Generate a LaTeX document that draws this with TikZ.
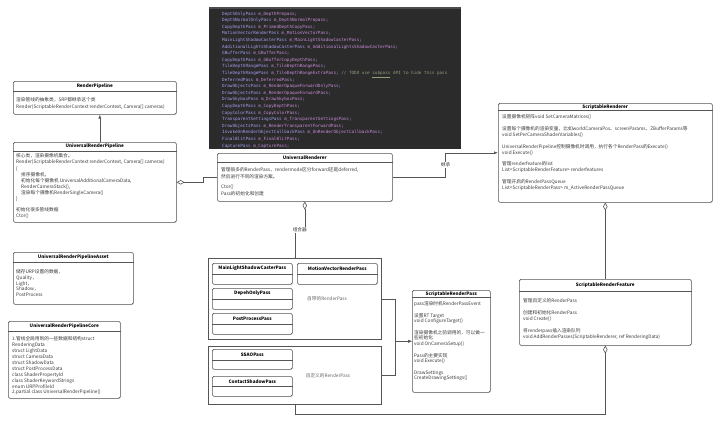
\documentclass[tikz,border=0pt]{standalone}
\usepackage{fontspec}
\setmainfont{Noto Sans CJK SC}
\newfontfamily\codefont{DejaVu Sans Mono}
\usetikzlibrary{arrows.meta,shadows,calc}

\definecolor{codebg}{HTML}{2B2B2B}
\definecolor{codebar}{HTML}{4A4C4E}
\definecolor{ctype}{HTML}{A59DEF}
\definecolor{cfield}{HTML}{C88CDA}
\definecolor{ccomment}{HTML}{8E9F7A}
\definecolor{boxline}{HTML}{555555}
\definecolor{bodytext}{HTML}{3A3A3A}

\newcommand\codeline[2]{\textcolor{ctype}{#1} \textcolor{cfield}{#2}\textcolor{ctype}{;}}

\tikzset{
  umlbox/.style={draw=boxline, line width=0.6pt, rounded corners=1.5pt, fill=white,
    drop shadow={shadow xshift=0.8pt, shadow yshift=-0.8pt, opacity=0.2},
    anchor=north west, inner sep=0pt},
  groupbox/.style={draw=boxline, line width=0.6pt, fill=white,
    drop shadow={shadow xshift=0.8pt, shadow yshift=-0.8pt, opacity=0.2},
    anchor=north west, inner sep=0pt},
  boxtitle/.style={font=\fontsize{4.6}{5.8}\selectfont\bfseries, inner sep=0pt},
  boxbody/.style={font=\fontsize{4.7}{5.9}\selectfont, text=bodytext, align=left,
    anchor=north west, inner sep=0pt},
  grouplabel/.style={font=\fontsize{4.7}{5.8}\selectfont, text=black!60, inner sep=0pt},
  link/.style={draw=boxline, line width=0.6pt},
  inherit/.style={link, -{Latex[length=4pt,width=3pt]}},
  aggr/.style={link, {Diamond[open,length=8pt,width=4.5pt]}-},
  linklabel/.style={font=\fontsize{4.7}{5.8}\selectfont, text=bodytext, fill=white, inner sep=0.8pt},
  codepanel/.style={fill=codebg, anchor=north west, inner sep=0pt},
  codetext/.style={font=\fontsize{4.3}{6.6}\selectfont\codefont, align=left,
    anchor=north west, inner sep=0pt},
}

\begin{document}
\begin{tikzpicture}[x=1pt,y=-1pt]
\useasboundingbox (0,0) rectangle (720,423);

% code panel
\node[codepanel, minimum width=252pt, minimum height=141pt] (codepanel) at (209,8) {};
\draw[codebar, line width=1.2pt] (codepanel.north west) -- (codepanel.north east);
\node[codetext] (codelines) at (222,11.6) {%
\codeline{DepthOnlyPass}{m\_DepthPrepass}\\
\codeline{DepthNormalOnlyPass}{m\_DepthNormalPrepass}\\
\codeline{CopyDepthPass}{m\_PrimedDepthCopyPass}\\
\codeline{MotionVectorRenderPass}{m\_MotionVectorPass}\\
\codeline{MainLightShadowCasterPass}{m\_MainLightShadowCasterPass}\\
\codeline{AdditionalLightsShadowCasterPass}{m\_AdditionalLightsShadowCasterPass}\\
\codeline{GBufferPass}{m\_GBufferPass}\\
\codeline{CopyDepthPass}{m\_GBufferCopyDepthPass}\\
\codeline{TileDepthRangePass}{m\_TileDepthRangePass}\\
\codeline{TileDepthRangePass}{m\_TileDepthRangeExtraPass} \textcolor{ccomment}{// TODO use \underline{subpass} API to hide this pass}\\
\codeline{DeferredPass}{m\_DeferredPass}\\
\codeline{DrawObjectsPass}{m\_RenderOpaqueForwardOnlyPass}\\
\codeline{DrawObjectsPass}{m\_RenderOpaqueForwardPass}\\
\codeline{DrawSkyboxPass}{m\_DrawSkyboxPass}\\
\codeline{CopyDepthPass}{m\_CopyDepthPass}\\
\codeline{CopyColorPass}{m\_CopyColorPass}\\
\codeline{TransparentSettingsPass}{m\_TransparentSettingsPass}\\
\codeline{DrawObjectsPass}{m\_RenderTransparentForwardPass}\\
\codeline{InvokeOnRenderObjectCallbackPass}{m\_OnRenderObjectCallbackPass}\\
\codeline{FinalBlitPass}{m\_FinalBlitPass}\\
\codeline{CapturePass}{m\_CapturePass}};

% RenderPipeline
\node[umlbox, minimum width=163pt, minimum height=33pt] (rp) at (13,81) {};
\draw[link] ([yshift=-10pt]rp.north west) -- ([yshift=-10pt]rp.north east);
\node[boxtitle] (rptitle) at ([yshift=-5pt]rp.north) {RenderPipeline};
\node[boxbody, font=\fontsize{4.7}{7.2}\selectfont] (rpbody) at (16,96.9) {%
渲染管线的抽象类，SRP都继承这个类\\
Render(ScriptableRenderContext renderContext, Camera[] cameras)};

% UniversalRenderPipeline
\node[umlbox, minimum width=163pt, minimum height=80pt] (urp) at (13,142) {};
\draw[link] ([yshift=-9pt]urp.north west) -- ([yshift=-9pt]urp.north east);
\node[boxtitle] (urptitle) at ([yshift=-4.5pt]urp.north) {UniversalRenderPipeline};
\node[boxbody, font=\fontsize{4.7}{6.1}\selectfont] (urpbody) at (16,153.7) {%
核心类，渲染摄像机集合。\\
Render(ScriptableRenderContext renderContext, Camera[] cameras)\\
\{\\
\hspace*{5pt}排序摄像机，\\
\hspace*{5pt}初始化每个摄像机 UniversalAdditionalCameraData,\\
\hspace*{5pt}RenderCameraStack(),\\
\hspace*{5pt}渲染每个摄像机RenderSingleCamera()\\
\}\\[5pt]
初始化很多管线数据\\
Ctor()};

% UniversalRenderPipelineAsset
\node[umlbox, minimum width=120pt, minimum height=52pt] (asset) at (13,252) {};
\draw[link] ([yshift=-10pt]asset.north west) -- ([yshift=-10pt]asset.north east);
\node[boxtitle] (assettitle) at ([yshift=-5pt]asset.north) {UniversalRenderPipelineAsset};
\node[boxbody, font=\fontsize{4.7}{5.8}\selectfont] (assetbody) at (16,269.3) {%
储存URP设置的数据，\\
Quality，\\
Light，\\
Shadow，\\
PostProcess};

% UniversalRenderPipelineCore
\node[umlbox, minimum width=112pt, minimum height=77pt] (core) at (8,321) {};
\draw[link] ([yshift=-10pt]core.north west) -- ([yshift=-10pt]core.north east);
\node[boxtitle] (coretitle) at ([yshift=-5pt]core.north) {UniversalRenderPipelineCore};
\node[boxbody] (corebody) at (12,336.6) {%
1.管线全局用到的一些数据和结构struct\\
RenderingData\\
struct LightData\\
struct CameraData\\
struct ShadowData\\
struct PostProcessData\\
class ShaderPropertyId\\
class ShaderKeywordStrings\\
enum URPProfileId\\
2.partial class UniversalRenderPipeline()};

% UniversalRenderer
\node[umlbox, minimum width=175pt, minimum height=48pt] (ur) at (217,153) {};
\draw[link] ([yshift=-9pt]ur.north west) -- ([yshift=-9pt]ur.north east);
\node[boxtitle] (urtitle) at ([yshift=-4.5pt]ur.north) {UniversalRenderer};
\node[boxbody, font=\fontsize{4.7}{7}\selectfont] (urbody) at (221,167.6) {%
管理很多的RenderPass，rendermode区分forward还是deferred,\\
然后进行不同的渲染方案。\\[3pt]
Ctor()\\
Pass的初始化和创建};

% ScriptableRenderer
\node[umlbox, minimum width=214pt, minimum height=99pt] (sr) at (498,103) {};
\draw[link] ([yshift=-7pt]sr.north west) -- ([yshift=-7pt]sr.north east);
\node[boxtitle] (srtitle) at ([yshift=-3.6pt]sr.north) {ScriptableRenderer};
\node[boxbody] (srbody) at (502,114.6) {%
设置摄像机矩阵void SetCameraMatrices()\\[5.9pt]
设置每个摄像机的渲染变量，比如worldCameraPos、screenParams、ZBufferParams等\\
void SetPerCameraShaderVariables()\\[5.9pt]
UniversalRenderPipeline控制摄像机时调用，执行各个RenderPass的Execute()\\
void Execute()\\[5.9pt]
管理renderfeature的list\\
List<ScriptableRenderFeature> renderfeatures\\[5.9pt]
管理开启的RenderPassQueue\\
List<ScriptableRenderPass> m\_ActiveRenderPassQueue};

% ScriptableRenderFeature
\node[umlbox, minimum width=172pt, minimum height=66pt] (srf) at (519,279) {};
\draw[link] ([yshift=-12pt]srf.north west) -- ([yshift=-12pt]srf.north east);
\node[boxtitle] (srftitle) at ([yshift=-6pt]srf.north) {ScriptableRenderFeature};
\node[boxbody] (srfbody) at (523,298.6) {%
管理自定义的RenderPass\\[5.9pt]
创建和初始化RenderPass\\
void Create()\\[5.9pt]
将renderpass插入渲染队列\\
void AddRenderPasses(ScriptableRenderer, ref RenderingData)};

% ScriptableRenderPass
\node[umlbox, minimum width=78pt, minimum height=102pt] (srp) at (412,290) {};
\draw[link] ([yshift=-7.5pt]srp.north west) -- ([yshift=-7.5pt]srp.north east);
\node[boxtitle] (srptitle) at ([yshift=-3.8pt]srp.north) {ScriptableRenderPass};
\node[boxbody, font=\fontsize{4.7}{5.7}\selectfont] (srpbody) at (414,301.6) {%
pass渲染时机RenderPassEvent\\[5.7pt]
设置RT Target\\
void ConfigureTarget()\\[5.7pt]
渲染摄像机之前调用的，可以做一\\
些初始化\\
void OnCameraSetup()\\[5.7pt]
Pass的主要实现\\
void Execute()\\[5.7pt]
DrawSettings\\
CreateDrawingSettings()};

% builtin passes
\node[groupbox, minimum width=173pt, minimum height=81pt] (builtin) at (208,258) {};
\node[grouplabel] (builtinlabel) at (327,299) {自带的RenderPass};
\node[umlbox, minimum width=80pt, minimum height=21pt] (mainlight) at (212,263) {};
\draw[link] ([yshift=-11pt]mainlight.north west) -- ([yshift=-11pt]mainlight.north east);
\node[boxtitle] (mainlighttitle) at ([yshift=-5.5pt]mainlight.north) {MainLightShadowCasterPass};
\node[umlbox, minimum width=80pt, minimum height=21pt] (motion) at (297,263) {};
\draw[link] ([yshift=-11pt]motion.north west) -- ([yshift=-11pt]motion.north east);
\node[boxtitle] (motiontitle) at ([yshift=-5.5pt]motion.north) {MotionVectorRenderPass};
\node[umlbox, minimum width=80pt, minimum height=21pt] (depthonly) at (212,288) {};
\draw[link] ([yshift=-11pt]depthonly.north west) -- ([yshift=-11pt]depthonly.north east);
\node[boxtitle] (depthonlytitle) at ([yshift=-5.5pt]depthonly.north) {DepehOnlyPass};
\node[umlbox, minimum width=80pt, minimum height=21pt] (postfx) at (212,313) {};
\draw[link] ([yshift=-11pt]postfx.north west) -- ([yshift=-11pt]postfx.north east);
\node[boxtitle] (postfxtitle) at ([yshift=-5.5pt]postfx.north) {PostProcessPass};

% custom passes
\node[groupbox, minimum width=173pt, minimum height=58pt] (custom) at (208,346) {};
\node[grouplabel] (customlabel) at (328,376) {自定义的RenderPass};
\node[umlbox, minimum width=80pt, minimum height=20pt] (ssao) at (212,349) {};
\draw[link] ([yshift=-11pt]ssao.north west) -- ([yshift=-11pt]ssao.north east);
\node[boxtitle] (ssaotitle) at ([yshift=-5.5pt]ssao.north) {SSAOPass};
\node[umlbox, minimum width=80pt, minimum height=20pt] (contact) at (212,376) {};
\draw[link] ([yshift=-10.5pt]contact.north west) -- ([yshift=-10.5pt]contact.north east);
\node[boxtitle] (contacttitle) at ([yshift=-5.3pt]contact.north) {ContactShadowPass};

% connectors
\draw[inherit] ([xshift=5pt]urp.north) -- ([xshift=5pt]rp.south);
\draw[aggr] (urp.east) -- ++(27,0) |- (ur.west);
\draw[inherit] (ur.east) -- ++(53,0) |- (sr.west) node[linklabel, pos=0.25] (inheritlabel) {继承};
\draw[aggr] (ur.south) -- ++(0,29) -| (builtin.north);
\node[linklabel] (complabel) at ($(ur.south)!0.5!(builtin.north)$) {组合器};
\draw[inherit] (builtin.east) -- ++(14,0) |- (srp.west);
\draw[inherit] (custom.east) -- ++(14,0) |- (srp.west);
\draw[aggr] (sr.south) -- (srf.north);
\draw[aggr] (srf.south) |- ([yshift=-10pt]custom.south) -- (custom.south);

\end{tikzpicture}
\end{document}
